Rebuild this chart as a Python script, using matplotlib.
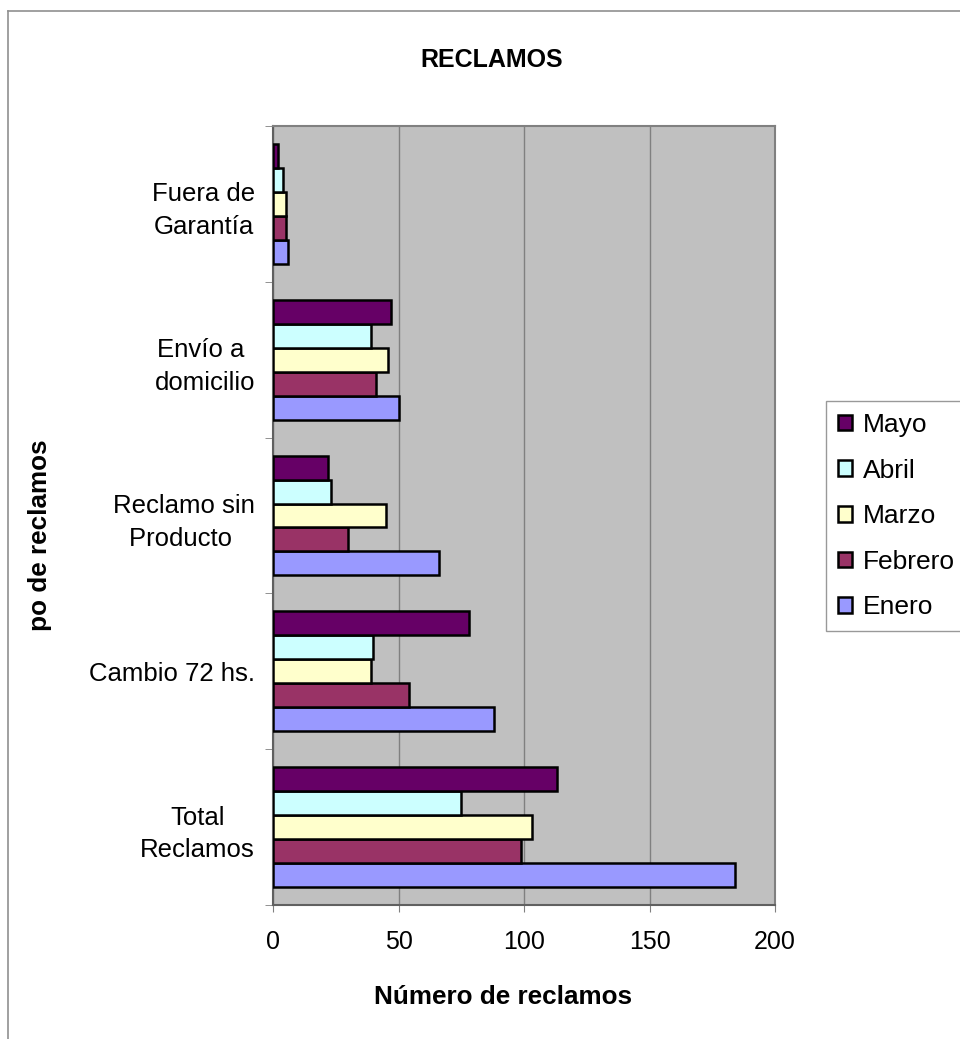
import numpy as np
import matplotlib
matplotlib.use('Agg')
import matplotlib.pyplot as plt
from matplotlib.lines import Line2D

plt.rcParams['font.family'] = ['Liberation Sans', 'DejaVu Sans']

# categorias de abajo hacia arriba
categorias = ['Total\nReclamos', 'Cambio 72 hs.', 'Reclamo sin\nProducto ',
              'Envío a \ndomicilio', 'Fuera de\nGarantía']
meses = ['Enero', 'Febrero', 'Marzo', 'Abril', 'Mayo']
colores = ['#9999FF', '#993366', '#FFFFCC', '#CCFFFF', '#660066']

enero   = [184, 88, 66, 50, 6]
febrero = [99, 54, 30, 41, 5]
marzo   = [103, 39, 45, 46, 5]
abril   = [75, 40, 23, 39, 4]
mayo    = [113, 78, 22, 47, 2]
valores = [enero, febrero, marzo, abril, mayo]

fig = plt.figure(figsize=(9.6, 10.39), dpi=100)
W, H = 960, 1039
ax = fig.add_axes([273 / W, 1 - 905 / H, (775 - 273) / W, (905 - 126) / H])
ax.set_facecolor('#C0C0C0')

y = np.arange(len(categorias))
h = 0.154
for i, (mes, vals, col) in enumerate(zip(meses, valores, colores)):
    ax.barh(y + (i - 2) * h, vals, height=h, color=col, edgecolor='black',
            linewidth=1.8, label=mes, zorder=3)

ax.set_xlim(0, 200)
ax.set_ylim(-0.5, 4.5)
ax.set_xticks([0, 50, 100, 150, 200])
ax.xaxis.grid(True, color='#808080', linewidth=1.0, zorder=0)
ax.tick_params(axis='x', labelsize=18, length=5, color='#808080', pad=13)

ax.set_yticks(y)
ax.set_yticklabels(categorias, fontsize=18.5, ha='right', multialignment='center',
                   linespacing=1.45)
ax.set_yticks(np.arange(-0.5, 5, 1), minor=True)
ax.tick_params(axis='y', which='major', length=0, pad=13)
ax.tick_params(axis='y', which='minor', length=6, color='#808080')

for s in ['top', 'right']:
    ax.spines[s].set_color('#808080')
for s in ['left', 'bottom']:
    ax.spines[s].set_color('#606060')
for s in ax.spines.values():
    s.set_linewidth(1.5)

handles, labels = ax.get_legend_handles_labels()
leg = ax.legend(handles[::-1], labels[::-1], loc='upper left',
                bbox_to_anchor=(826 / W, 1 - 401 / H), bbox_transform=fig.transFigure,
                borderaxespad=0, fontsize=19, frameon=True, fancybox=False,
                handlelength=0.55, handleheight=0.55, handletextpad=0.4,
                labelspacing=0.82, borderpad=0.45)
leg.get_frame().set_edgecolor('#808080')
leg.get_frame().set_linewidth(1.0)

fig.text(492 / W, 1 - 60 / H, 'RECLAMOS', fontsize=18, fontweight='bold',
         ha='center', va='center')
fig.text(503 / W, 1 - 997 / H, 'Número de reclamos', fontsize=18.8, fontweight='bold',
         ha='center', va='center')
fig.text(40 / W, 1 - 535 / H, 'po de reclamos', fontsize=18.8, fontweight='bold',
         rotation=90, ha='center', va='center')

# marco exterior del grafico
fig.add_artist(Line2D([8 / W, 8 / W], [0, 1 - 11 / H], color='#909090', linewidth=1.2))
fig.add_artist(Line2D([8 / W, 1], [1 - 11 / H, 1 - 11 / H], color='#909090', linewidth=1.2))

fig.savefig('out.png', dpi=100)
